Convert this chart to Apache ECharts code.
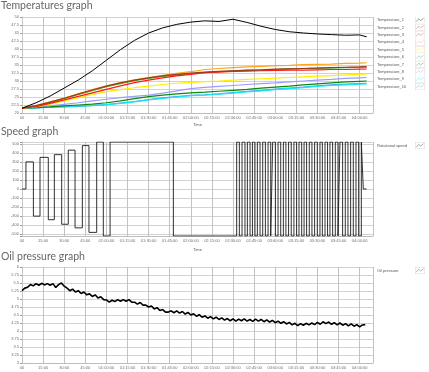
<!DOCTYPE html>
<html><head><meta charset="utf-8">
<script src="https://cdn.jsdelivr.net/npm/echarts@6/dist/echarts.min.js"></script>
<style>html,body{margin:0;padding:0;background:#fff}#c{width:429px;height:372px}</style>
</head><body><div id="c"></div>
<script>
// ---------- DATA ----------
const tempNames = ['Temperature_1','Temperature_2','Temperature_3','Temperature_4','Temperature_5','Temperature_6','Temperature_7','Temperature_8','Temperature_9','Temperature_10'];
const tempTime = [0,10,20,30,40,50,60,70,80,90,100,110,120,130,140,150,160,170,180,190,200,210,220,230,240,245];
const temp1  = [21.5,23.2,25.3,27.8,30.3,33.2,36.5,39.8,42.7,45.0,46.6,47.7,48.4,48.8,48.6,49.3,48.3,47.1,46.1,45.4,45.0,44.7,44.5,44.3,44.4,43.8];
const temp2  = [21.5,22.3,23.4,24.6,25.9,27.2,28.4,29.4,30.3,31.0,31.6,32.1,32.5,32.8,33.0,33.2,33.4,33.5,33.7,33.8,33.9,34.0,34.2,34.3,34.4,34.5];
const temp3  = [21.5,22.0,23.0,24.1,25.2,26.3,27.4,28.5,29.5,30.3,31.0,31.6,32.1,32.6,32.8,33.0,33.1,33.2,33.3,33.4,33.4,33.5,33.6,33.6,33.7,33.75];
const temp4  = [21.5,22.3,23.5,24.7,26.0,27.3,28.5,29.5,30.4,31.1,31.8,32.4,32.9,33.6,33.9,34.2,34.4,34.6,34.8,34.9,35.1,35.2,35.3,35.5,35.6,35.7];
const temp5  = [21.5,21.9,22.8,23.8,24.8,25.8,26.7,27.3,27.9,28.4,28.9,29.3,29.6,29.8,30.0,30.3,30.5,30.7,30.9,31.1,31.3,31.5,31.7,31.9,32.1,32.2];
const temp6  = [21.5,22.2,23.3,24.5,25.8,27.0,28.2,29.2,30.1,30.8,31.4,31.9,32.3,32.6,32.9,33.1,33.3,33.5,33.6,33.8,33.9,34.0,34.1,34.2,34.3,34.3];
const temp7  = [21.5,21.7,21.9,22.2,22.5,22.8,23.2,23.8,24.5,25.1,25.6,26.0,26.3,26.5,26.8,27.1,27.4,27.8,28.1,28.4,28.8,29.1,29.4,29.7,29.9,30.0];
const temp8  = [21.5,21.8,22.2,22.7,23.2,23.8,24.3,24.8,25.2,25.6,26.2,26.9,27.6,28.0,28.3,28.6,28.9,29.2,29.4,29.7,30.0,30.3,30.5,30.8,31.0,31.1];
const temp9  = [21.5,21.6,21.8,22.0,22.2,22.4,22.6,23.0,23.5,24.1,24.6,25.0,25.4,25.6,25.9,26.2,26.6,26.9,27.3,27.6,27.9,28.3,28.6,28.8,29.0,29.1];
const temp10 = [21.5,21.6,21.8,21.9,22.1,22.3,22.6,23.1,23.6,24.2,24.7,25.1,25.5,25.7,26.0,26.4,26.8,27.1,27.5,27.8,28.1,28.5,28.8,29.0,29.2,29.3];

const speedName = 'Rotational speed';
const speedTime = [0,2.8,8.1,12.8,18.7,23.0,28.2,32.9,37.7,42.9,47.6,53.1,57.8,62.6,107.6,
  152.6,154.5,156.4,158.5,160.2,162.1,163.8,165.6,167.3,169.2,
  171.1,173.0,174.9,176.8,178.2,180.1,182.0,183.9,185.8,187.6,
  189.5,191.4,193.3,195.2,196.9,198.8,200.5,202.3,204.2,206.1,
  208.0,209.9,211.8,213.5,215.4,217.2,218.9,220.8,222.7,224.6,
  226.0,227.9,229.8,231.7,233.6,235.5,237.4,239.3,241.2,
  242.6,245];
const speedVal = [0,300,-300,350,-340,380,-390,430,-430,480,-480,520,-520,520,-520,
  520,-520,520,-520,520,-520,520,-520,520,-520,
  520,-520,520,-520,520,-520,520,-520,520,-520,
  520,-520,520,-520,520,-520,520,-520,520,-520,
  520,-520,520,-520,520,-520,520,-520,520,-520,
  520,-520,520,-520,520,-520,520,-520,520,
  0,0];
const speedTicks = [-520,-500,-400,-300,-200,-100,0,100,200,300,400,500,520];
const speedLabels = [-500,-400,-300,-200,-100,0,100,200,300,400,500];

const oilName = 'Oil pressure';
const oilTime = [0,2,4,6,8,10,12,14,16,18,20,22,24,26,28,30,32,34,36,38,40,42,44,46,48,50,52,54,56,58,60,62,64,66,68,70,72,74,76,78,80,82,84,86,88,90,92,94,96,98,100,102,104,106,108,110,112,114,116,118,120,122,124,126,128,130,132,134,136,138,140,142,144,146,148,150,152,154,156,158,160,162,164,166,168,170,172,174,176,178,180,182,184,186,188,190,192,194,196,198,200,202,204,206,208,210,212,214,216,218,220,222,224,226,228,230,232,234,236,238,240,242,244,245];
const oilVal = [5.26,5.34,5.37,5.45,5.41,5.48,5.43,5.49,5.44,5.48,5.43,5.48,5.36,5.45,5.50,5.40,5.34,5.26,5.31,5.22,
  5.26,5.17,5.22,5.13,5.16,5.08,5.13,5.03,5.07,4.98,4.97,4.90,4.96,4.92,4.98,4.93,4.98,4.93,4.98,4.90,
  4.90,4.84,4.89,4.81,4.81,4.75,4.78,4.69,4.73,4.64,4.67,4.59,4.59,4.63,4.57,4.63,4.56,4.61,4.53,4.58,
  4.50,4.54,4.46,4.51,4.43,4.47,4.40,4.45,4.38,4.43,4.36,4.41,4.34,4.39,4.32,4.38,4.31,4.37,4.32,4.38,
  4.31,4.36,4.30,4.37,4.31,4.36,4.29,4.35,4.28,4.33,4.26,4.31,4.24,4.29,4.22,4.27,4.19,4.24,4.17,4.23,
  4.18,4.24,4.19,4.25,4.20,4.27,4.21,4.29,4.23,4.28,4.21,4.26,4.19,4.25,4.18,4.23,4.16,4.22,4.15,4.20,
  4.13,4.19,4.20,4.23];

const titles = ['Temperatures graph','Speed graph','Oil pressure graph'];

// ---------- STYLE / OPTIONS ----------
const tempColors = ['#000000','#9b3a1a','#ff1a1a','#ffa31a','#ffee00','#3cb521','#0a8a0a','#9c9cff','#19e3f5','#3aa7f0'];
function icon(c){
  const svg = '<svg xmlns="http://www.w3.org/2000/svg" width="30" height="21" viewBox="0 0 30 21">'+
    '<rect x="0.5" y="0.5" width="29" height="20" fill="#fff" stroke="#c4c4c4"/>'+
    '<polyline points="4,15 11,7 17,12 26,5" fill="none" stroke="'+c+'" stroke-width="1.6" opacity="0.7"/></svg>';
  return 'image://data:image/svg+xml;charset=utf-8,' + encodeURIComponent(svg);
}
function fmtTime(v){
  if (v === 0) return '00';
  const ts = Math.round(v*60);
  const h = Math.floor(ts/3600), m = Math.floor((ts%3600)/60), s = ts%60;
  const p = n => String(n).padStart(2,'0');
  if (h === 0) return m + ':' + p(s);
  return p(h)+':'+p(m)+':'+p(s);
}
const lblFont = 'Liberation Sans';
const axLbl = {fontSize:4, color:'#6e6e6e', fontFamily: lblFont};
function xAx(gi, gap){
  return {type:'value', gridIndex:gi, min:0, max:249.5, interval:15,
    name:'Time', nameLocation:'middle', nameGap:gap, nameTextStyle:{fontSize:4, color:'#555', fontFamily: lblFont},
    axisLine:{show:true, onZero:false, lineStyle:{color:'#bdbdbd', width:1}},
    axisTick:{show:false},
    axisLabel:{...axLbl, margin:3, formatter: fmtTime},
    splitLine:{show:true, lineStyle:{color:'#c2c2c2', width:1}}};
}
function yAx(gi, name, extra){
  return Object.assign({type:'value', gridIndex:gi,
    name:name, nameLocation:'middle', nameGap:12, nameTextStyle:{fontSize:4, color:'#444', fontFamily: lblFont},
    axisLine:{show:true, lineStyle:{color:'#c6c6c6'}},
    axisTick:{show:true, length:2, lineStyle:{color:'#999'}},
    axisLabel:{...axLbl, margin:3},
    splitLine:{show:true, lineStyle:{color:'#d2d2d2', width:1}}}, extra);
}
const tempArrays = [temp1,temp2,temp3,temp4,temp5,temp6,temp7,temp8,temp9,temp10];
const series = [];
tempArrays.forEach((arr, i) => {
  series.push({name: tempNames[i], type:'line', xAxisIndex:0, yAxisIndex:0, showSymbol:false, symbol:'none',
    data: tempTime.map((t,k)=>[t, arr[k]]), color: tempColors[i],
    lineStyle:{width: i===0 ? 1 : 1.2, color: tempColors[i]}, z: 10 - i});
});
series.push({name: speedName, type:'line', xAxisIndex:1, yAxisIndex:1, step:'end', symbol:'none', color:'#222',
  data: speedTime.map((t,k)=>[t, speedVal[k]]), lineStyle:{width:0.9, color:'#1a1a1a'}});
series.push({name: oilName, type:'line', xAxisIndex:2, yAxisIndex:2, symbol:'none', color:'#000',
  data: oilTime.map((t,k)=>[t, oilVal[k]]), lineStyle:{width:1.6, color:'#000'}});

const legendText = {fontSize:4, color:'#555', fontFamily: lblFont, rich:{a:{width:33, align:'left', fontSize:4, color:'#555', fontFamily: lblFont}}};
function legend(names, colors, top){
  return {orient:'vertical', right:4, top:top, itemWidth:10, itemHeight:7, itemGap:0.4, padding:0,
    selectedMode:false, align:'right', formatter: n => '{a|' + n + '}', textStyle: legendText,
    data: names.map((n,i)=>({name:n, icon: icon(colors[i])}))};
}
const titleStyle = {fontSize:10.5, fontWeight:'normal', color:'#676767', fontFamily:'Lato'};
const option = {
  animation:false,
  backgroundColor:'#fff',
  title: [
    {text: titles[0], left:1, top:0, padding:0, textStyle:titleStyle},
    {text: titles[1], left:1, top:126, padding:0, textStyle:titleStyle},
    {text: titles[2], left:1, top:251, padding:0, textStyle:titleStyle}
  ],
  legend: [
    legend(tempNames, tempColors, 16.5),
    legend([speedName], ['#333'], 142),
    legend([oilName], ['#333'], 267)
  ],
  grid: [
    {left:22, right:56, top:17, height:96, outerBoundsMode:'none'},
    {left:22, right:56, top:142, height:94, outerBoundsMode:'none'},
    {left:22, right:56, top:267, height:96, outerBoundsMode:'none'}
  ],
  xAxis: [xAx(0,10), xAx(1,12), xAx(2,10)],
  yAxis: [
    yAx(0,'Temperature [°C]', {min:20, max:50, interval:2.5}),
    yAx(1,'Speed [RPM]', {min:-520, max:520, axisTick:{show:true, length:2, lineStyle:{color:'#999'}, customValues: speedTicks},
      axisLabel:{...axLbl, margin:3, customValues: speedLabels}}),
    yAx(2,'Oil pressure [Bar]', {min:3, max:6, interval:0.25})
  ],
  series: series
};
const chart = echarts.init(document.getElementById('c'));
chart.setOption(option);
</script></body></html>
